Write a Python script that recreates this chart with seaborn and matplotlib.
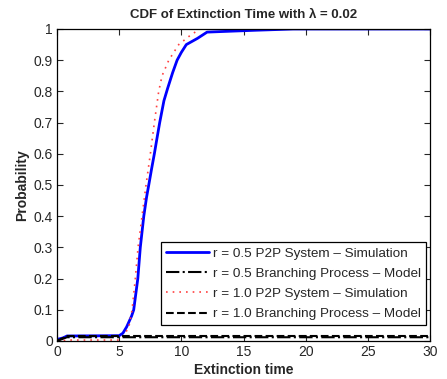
import matplotlib
matplotlib.use("Agg")
import matplotlib.pyplot as plt
import seaborn as sns
import pandas as pd

# ---- data ----
t_sim05 = [0, 0.5, 0.8, 5.0, 5.3, 5.6, 6.0, 6.17, 6.5, 6.7, 6.98, 7.2, 7.38, 7.6, 7.83, 8.0, 8.26, 8.6, 8.9, 9.3, 9.66, 10.0, 10.4, 11.3, 12.07, 14.0, 16.0, 19.0, 30.0]
p_sim05 = [0.005, 0.01, 0.016, 0.017, 0.025, 0.045, 0.08, 0.1, 0.2, 0.3, 0.4, 0.46, 0.5, 0.55, 0.6, 0.64, 0.7, 0.77, 0.81, 0.86, 0.9, 0.925, 0.95, 0.97, 0.99, 0.993, 0.996, 1.0, 1.0]

t_sim10 = [0, 1.0, 5.0, 5.5, 5.8, 6.04, 6.3, 6.52, 6.84, 7.16, 7.51, 7.83, 8.18, 8.45, 8.99, 9.79, 10.73, 11.5, 30.0]
p_sim10 = [0.0, 0.003, 0.003, 0.024, 0.05, 0.1, 0.2, 0.3, 0.4, 0.5, 0.6, 0.7, 0.8, 0.85, 0.9, 0.95, 0.98, 1.0, 1.0]

t_mod05 = [0, 0.8, 30]
p_mod05 = [0.0, 0.012, 0.012]

t_mod10 = [0, 0.8, 30]
p_mod10 = [0.0, 0.016, 0.016]

labels = ["r = 0.5 P2P System \u2013 Simulation",
          "r = 0.5 Branching Process \u2013 Model",
          "r = 1.0 P2P System \u2013 Simulation",
          "r = 1.0 Branching Process \u2013 Model"]

sns.set_style("ticks")
plt.rcParams['font.family'] = ['Liberation Sans', 'DejaVu Sans']

fig = plt.figure(figsize=(4.47, 3.79), dpi=100)
ax = fig.add_axes([0.1275, 0.1003, 0.8345, 0.8232])

sns.lineplot(x=t_sim05, y=p_sim05, ax=ax, color="#0000ff", lw=2.0, label=labels[0], sort=False)
sns.lineplot(x=t_mod05, y=p_mod05, ax=ax, color="black", lw=1.5, linestyle="-.", label=labels[1], sort=False)
sns.lineplot(x=t_sim10, y=p_sim10, ax=ax, color="#ff4040", lw=1.2, linestyle=(0, (1, 3)), label=labels[2], sort=False)
sns.lineplot(x=t_mod10, y=p_mod10, ax=ax, color="black", lw=1.5, linestyle="--", label=labels[3], sort=False)

ax.set_xlim(0, 30)
ax.set_ylim(0, 1)
ax.set_xticks(range(0, 31, 5))
ax.set_yticks([i / 10 for i in range(11)])
ax.set_yticklabels(["0"] + ["%.1f" % (i / 10) for i in range(1, 10)] + ["1"])
ax.tick_params(direction="in", top=True, right=True, labelsize=10, length=4, width=0.8, pad=3)
for s in ax.spines.values():
    s.set_visible(True)
    s.set_linewidth(0.9)
    s.set_color("black")

ax.set_xlabel("Extinction time", fontsize=10, fontweight="bold", labelpad=3)
ax.set_ylabel("Probability", fontsize=10, fontweight="bold", labelpad=3)
ax.set_title("CDF of Extinction Time with \u03bb = 0.02", fontsize=9.5, fontweight="bold", pad=8)

leg = ax.legend(loc="lower right", bbox_to_anchor=(0.989, 0.051), fontsize=9.7, frameon=True, fancybox=False,
                edgecolor="black", framealpha=1, borderpad=0.35, labelspacing=0.58, handlelength=3.2,
                handletextpad=0.3, borderaxespad=0)
leg.get_frame().set_linewidth(0.9)

fig.savefig("out.png", dpi=100)
